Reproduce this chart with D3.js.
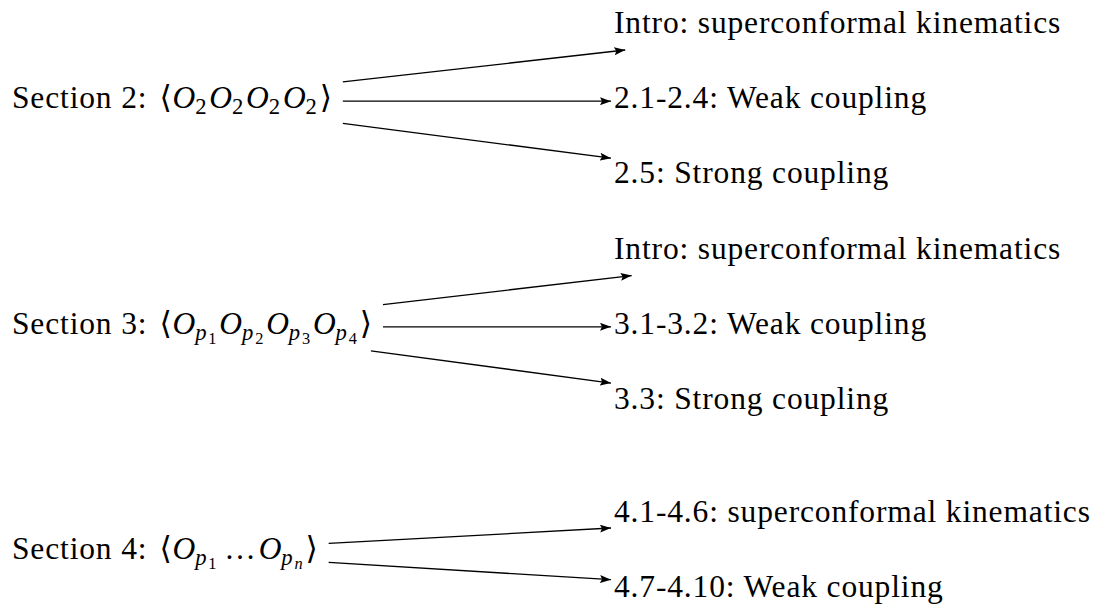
<!DOCTYPE html>
<html>
<head>
<meta charset="utf-8">
<script src="https://cdn.jsdelivr.net/npm/d3@7"></script>
<style>
  body { margin: 0; background: white; }
</style>
</head>
<body>
<div id="chart"></div>
<script>
// Section labels on the left
const sectionNames = ["Section 2:", "Section 3:", "Section 4:"];

// Operators inside each correlator: [subscript, sub-subscript], null stands for the dots
const sectionOps = [
  [["2", ""], ["2", ""], ["2", ""], ["2", ""]],
  [["p", "1"], ["p", "2"], ["p", "3"], ["p", "4"]],
  [["p", "1"], null, ["p", "n"]]
];

// Targets on the right, one list per section
const targets2 = ["Intro: superconformal kinematics", "2.1-2.4: Weak coupling", "2.5: Strong coupling"];
const targets3 = ["Intro: superconformal kinematics", "3.1-3.2: Weak coupling", "3.3: Strong coupling"];
const targets4 = ["4.1-4.6: superconformal kinematics", "4.7-4.10: Weak coupling"];

// Row slots of the targets (section 4 sits a bit lower)
const slots2 = [0, 1, 2];
const slots3 = [3, 4, 5];
const slots4 = [6.5, 7.5];

let width = 1094, height = 604;
let fs = 31.5;
let spacing = 0.85;
let leftX = 12, rightX = 614;
let serif = "'Liberation Serif', 'Times New Roman', Times, 'DejaVu Serif', serif";

let svg = d3.select("#chart")
  .append("svg")
  .attr("width", width)
  .attr("height", height)
  .style("background", "white");

// arrow head
svg.append("defs").append("marker")
  .attr("id", "arrow")
  .attr("markerUnits", "userSpaceOnUse")
  .attr("viewBox", "0 0 11 8")
  .attr("refX", 11)
  .attr("refY", 4)
  .attr("markerWidth", 11)
  .attr("markerHeight", 8)
  .attr("orient", "auto")
  .append("path")
  .attr("d", "M0,0 L11,4 L0,8 L2,4 Z")
  .attr("fill", "black");

// baseline of every row
let yScale = d3.scaleLinear()
  .domain([0, 7.5])
  .range([33, 597]);

const sections = [
  {name: sectionNames[0], ops: sectionOps[0], targets: targets2, slots: slots2},
  {name: sectionNames[1], ops: sectionOps[1], targets: targets3, slots: slots3},
  {name: sectionNames[2], ops: sectionOps[2], targets: targets4, slots: slots4}
];

// node box around a text (like a tikz node), center + half sizes
function nodeBox(textSel, base, padX) {
  let b = textSel.node().getBBox();
  let top = base - 31, bottom = base + 17;
  return {
    cx: b.x + b.width / 2,
    cy: (top + bottom) / 2,
    hw: b.width / 2 + padX,
    hh: (bottom - top) / 2
  };
}

function clipT(box, vx, vy) {
  let tx = vx === 0 ? Infinity : box.hw / Math.abs(vx);
  let ty = vy === 0 ? Infinity : box.hh / Math.abs(vy);
  return Math.min(tx, ty);
}

sections.forEach(function(sec) {
  let base = yScale(d3.mean(sec.slots));

  // left label with the correlator
  let label = svg.append("text")
    .attr("x", leftX)
    .attr("y", base)
    .attr("font-family", serif)
    .attr("font-size", fs)
    .attr("letter-spacing", spacing)
    .attr("fill", "black");

  label.append("tspan").text(sec.name);
  label.append("tspan").attr("dx", 12).text("\u27E8");

  let shift = 0;
  sec.ops.forEach(function(op, k) {
    if (op === null) {
      label.append("tspan").attr("dx", 7).attr("dy", -shift).text("\u2026");
      shift = 0;
      label.append("tspan").attr("dx", 5).text("");
      return;
    }
    label.append("tspan")
      .attr("dy", -shift)
      .attr("dx", k === 0 ? 0 : 2)
      .attr("font-style", "italic")
      .text("O");
    shift = 0;
    label.append("tspan")
      .attr("dy", 6)
      .attr("dx", -1)
      .attr("font-size", fs * 0.72)
      .attr("font-style", op[0] === "p" ? "italic" : "normal")
      .text(op[0]);
    shift = 6;
    if (op[1] !== "") {
      label.append("tspan")
        .attr("dy", 4)
        .attr("dx", 1)
        .attr("font-size", fs * 0.52)
        .attr("font-style", op[1] === "n" ? "italic" : "normal")
        .text(op[1]);
      shift += 4;
    }
  });
  label.append("tspan").attr("dy", -shift).attr("dx", 2).text("\u27E9");

  let src = nodeBox(label, base, 10);

  sec.targets.forEach(function(t, i) {
    let tb = yScale(sec.slots[i]);
    let tText = svg.append("text")
      .attr("x", rightX)
      .attr("y", tb)
      .attr("font-family", serif)
      .attr("font-size", fs)
      .attr("letter-spacing", spacing)
      .attr("fill", "black")
      .text(t);

    let dst = nodeBox(tText, tb, 3);
    let vx = dst.cx - src.cx, vy = dst.cy - src.cy;
    let ts = clipT(src, vx, vy), tt = clipT(dst, vx, vy);

    svg.append("line")
      .attr("x1", src.cx + ts * vx)
      .attr("y1", src.cy + ts * vy)
      .attr("x2", dst.cx - tt * vx)
      .attr("y2", dst.cy - tt * vy)
      .attr("stroke", "black")
      .attr("stroke-width", 1.3)
      .attr("marker-end", "url(#arrow)");
  });
});
</script>
</body>
</html>
